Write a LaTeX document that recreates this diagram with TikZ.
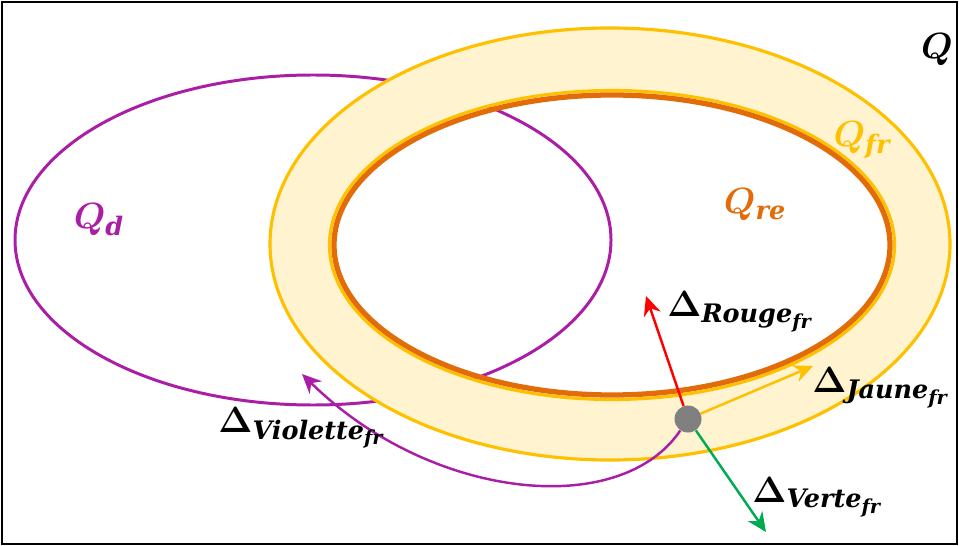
\documentclass[tikz,border=0pt]{standalone}
\usepackage{amsmath}
\usepackage{fontspec}
\usepackage{tikz}
\usetikzlibrary{positioning,arrows.meta}
\newfontfamily\subfont{DejaVu Serif}
\newcommand{\bsub}[1]{\mbox{\fontsize{14.5}{17}\subfont\bfseries\itshape #1}}
\newcommand{\bsubb}[1]{\mbox{\fontsize{11}{13}\subfont\bfseries\itshape #1}}

\definecolor{violette}{RGB}{170,30,165}
\definecolor{jaune}{RGB}{255,192,0}
\definecolor{orangere}{RGB}{227,108,10}
\definecolor{bande}{RGB}{255,243,208}
\definecolor{rouge}{RGB}{255,0,0}
\definecolor{verte}{RGB}{0,170,80}
\definecolor{gris}{RGB}{128,128,128}

\begin{document}
\begin{tikzpicture}[
    lbl/.style={inner sep=0pt,font=\fontsize{20}{24}\selectfont\boldmath},
    vec/.style={line width=1.4pt,-{Stealth[length=11pt,width=10pt]}}]
  \useasboundingbox (0,0) rectangle (19.18,-10.92);
  \draw[line width=1.2pt] (0.04,-0.04) rectangle (19.14,-10.88);
  % ensembles
  \draw[violette,line width=1.7pt] (6.26,-4.8) ellipse (5.96 and 3.3);
  \fill[bande,even odd rule] (12.2,-4.88) ellipse (6.8 and 4.32)
    (12.24,-4.9) ellipse (5.62 and 3.06);
  \draw[jaune,line width=1.8pt] (12.2,-4.88) ellipse (6.8 and 4.32);
  \draw[jaune,line width=1.8pt] (12.24,-4.9) ellipse (5.65 and 3.09);
  \draw[orangere,line width=3pt] (12.24,-4.9) ellipse (5.56 and 3.0);
  \node[lbl] (q) at (18.74,-1.0) {$Q$};
  \node[lbl,violette] (qd) at (1.98,-4.4) {$Q_{\bsub{d}}$};
  \node[lbl,orangere] (qre) at (15.1,-4.1) {$Q_{\bsub{re}}$};
  \node[lbl,jaune] (qfr) at (17.24,-2.8) {$Q_{\bsub{fr}}$};
  % deplacements
  \node[circle,fill=gris,minimum size=0.54cm,inner sep=0pt] (pt) at (13.76,-8.38) {};
  \coordinate (rtip) at (12.92,-5.92);
  \coordinate (jtip) at (16.26,-7.32);
  \coordinate (vtip) at (15.32,-10.64);
  \coordinate (viotip) at (6.04,-7.48);
  \draw[vec,rouge] (pt) -- (rtip);
  \draw[vec,jaune] (pt) -- (jtip);
  \draw[vec,verte] (pt) -- (vtip);
  \draw[vec,violette] (pt) .. controls (12.4,-10.4) and (8.6,-10.0) .. (viotip);
  \node[lbl,anchor=west] (drouge) at (13.34,-6.24) {$\Delta_{\bsub{Rouge}_{\bsubb{fr}}}$};
  \node[lbl,anchor=west] (djaune) at (16.24,-7.76) {$\Delta_{\bsub{Jaune}_{\bsubb{fr}}}$};
  \node[lbl,anchor=west] (dverte) at (15.04,-9.94) {$\Delta_{\bsub{Verte}_{\bsubb{fr}}}$};
  \node[lbl,anchor=west] (dviolette) at (4.36,-8.56) {$\Delta_{\bsub{Violette}_{\bsubb{fr}}}$};
\end{tikzpicture}
\end{document}
